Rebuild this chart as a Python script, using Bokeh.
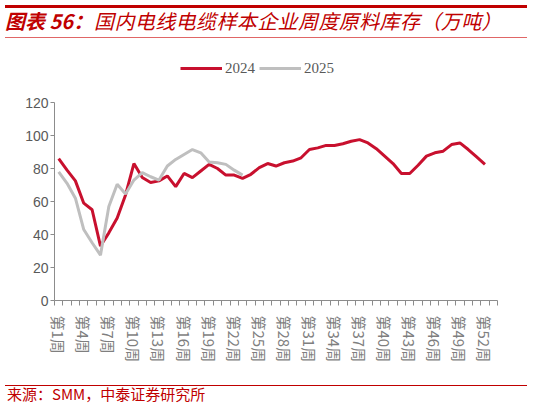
from bokeh.embed import file_html
from bokeh.layouts import column
from bokeh.models import ColumnDataSource, Div, FixedTicker, Legend, LegendItem, Range1d
from bokeh.plotting import figure
from bokeh.resources import INLINE

# weekly raw material inventory (10k t)
weeks_2024 = list(range(1, 53))
inv_2024 = [86, 79, 72.5, 59, 55, 33, 41, 50, 64, 83,
            74.5, 71.5, 72.5, 75.5, 69, 77, 74.5, 78.5, 82.5, 80,
            76, 76, 74, 76.5, 80.5, 83, 81.5, 83.5, 84.5, 86.5,
            91.5, 92.5, 94, 94, 95, 96.5, 97.5, 95.5, 92, 87.5,
            83, 77, 77, 82, 87.5, 89.5, 90.5, 94.5, 95.5, 91.5,
            87, 82.5]
weeks_2025 = list(range(1, 24))
inv_2025 = [78, 71, 62, 43, 35, 27.5, 57, 70.5, 64.5, 73,
            77.5, 75, 73, 81.5, 85.5, 88.5, 91.5, 89.5, 84, 83.5,
            82.5, 79, 76]
tick_weeks = list(range(1, 54, 3))
tick_labels = {w: "第%d周" % w for w in tick_weeks}
y_ticks = [0, 20, 40, 60, 80, 100, 120]

title_a = "图表 56："
title_b = "国内电线电缆样本企业周度原料库存（万吨）"
source_note = "来源：SMM，中泰证券研究所"

W = 522
RED = "#C8102E"
GREY = "#BFBFBF"
DARK_RED = "#C00000"
CJK = "'Noto Sans CJK SC'"

# header: rules and title
header_html = (
    '<div style="position:relative;width:%dpx;height:38px;">' % W
    + '<div style="position:absolute;left:0;top:0;width:%dpx;height:3px;background:%s"></div>' % (W, DARK_RED)
    + '<span style="position:absolute;left:0;top:4px;white-space:nowrap;line-height:24px;'
      'font-family:%s;font-size:20px;font-style:italic;font-weight:bold;color:%s">%s</span>'
      % (CJK, DARK_RED, title_a)
    + '<span style="position:absolute;left:89px;top:4px;white-space:nowrap;line-height:24px;letter-spacing:0.4px;'
      'font-family:%s;font-size:20px;font-style:italic;color:%s">%s</span>'
      % (CJK, DARK_RED, title_b)
    + '<div style="position:absolute;left:0;top:32px;width:%dpx;height:1px;background:#E06666"></div>' % W
    + '</div>'
)
head = Div(text=header_html, width=W, height=38)

# main chart; the frame runs above 120 to leave room for the legend,
# the y axis line itself stops at 120
p = figure(width=W, height=322, x_range=Range1d(0.5, 53.5), y_range=Range1d(0, 149.1),
           toolbar_location=None, output_backend="svg",
           min_border_left=54, min_border_right=25, min_border_top=6, min_border_bottom=70,
           outline_line_color=None)
p.grid.visible = False

src24 = ColumnDataSource(data=dict(x=weeks_2024, y=inv_2024))
src25 = ColumnDataSource(data=dict(x=weeks_2025, y=inv_2025))
r24 = p.line("x", "y", source=src24, line_color=RED, line_width=3)
r25 = p.line("x", "y", source=src25, line_color=GREY, line_width=3)

p.yaxis.ticker = FixedTicker(ticks=y_ticks)
p.yaxis.bounds = (0, 120)
p.yaxis.axis_line_color = "#8C8C8C"
p.yaxis.major_tick_line_color = "#8C8C8C"
p.yaxis.major_tick_out = 4
p.yaxis.major_tick_in = 0
p.yaxis.minor_tick_line_color = None
p.yaxis.major_label_text_font = "Liberation Sans"
p.yaxis.major_label_text_font_size = "14px"
p.yaxis.major_label_text_color = "#595959"
p.yaxis.major_label_standoff = 2

p.xaxis.ticker = FixedTicker(ticks=tick_weeks,
                             minor_ticks=[w + 0.5 for w in range(0, 54)])
p.xaxis.major_label_overrides = tick_labels
p.xaxis.major_label_orientation = "vertical"
p.xaxis.axis_line_color = "#8C8C8C"
p.xaxis.major_tick_line_color = None
p.xaxis.major_tick_out = 0
p.xaxis.major_tick_in = 0
p.xaxis.minor_tick_line_color = "#8C8C8C"
p.xaxis.minor_tick_out = 5
p.xaxis.minor_tick_in = 0
p.xaxis.major_label_text_font = "Noto Sans CJK SC"
p.xaxis.major_label_text_font_size = "15px"
p.xaxis.major_label_text_color = "#7F7F7F"
p.xaxis.major_label_standoff = 10

legend = Legend(items=[LegendItem(label="2024", renderers=[r24]),
                       LegendItem(label="2025", renderers=[r25])],
                orientation="horizontal", location=(126, 223),
                border_line_color=None, background_fill_alpha=0,
                padding=0, margin=0, spacing=4, label_standoff=3,
                glyph_width=42, glyph_height=16, label_height=18,
                label_text_font="Liberation Serif", label_text_font_size="15px",
                label_text_color="#595959")
p.add_layout(legend)

# footer: rule and source
footer_html = (
    '<div style="position:relative;width:%dpx;height:28px;">' % W
    + '<div style="position:absolute;left:0;top:10px;width:%dpx;height:1px;background:%s"></div>' % (W, DARK_RED)
    + '<span style="position:absolute;left:2px;top:10px;white-space:nowrap;line-height:18px;'
      'font-family:%s;font-size:15px;color:%s">%s</span>' % (CJK, DARK_RED, source_note)
    + '</div>'
)
foot = Div(text=footer_html, width=W, height=28)

layout = column(head, p, foot, spacing=0)
open("out.html", "w").write(file_html(layout, INLINE))
